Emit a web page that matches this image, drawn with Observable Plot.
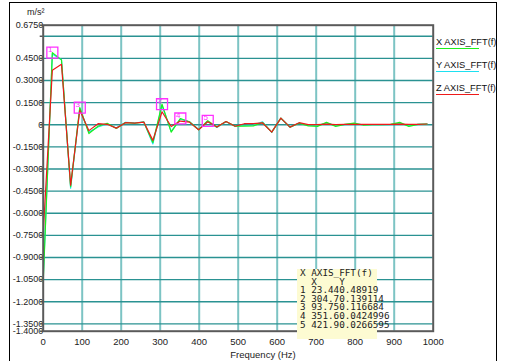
<!DOCTYPE html>
<html><head><meta charset="utf-8">
<script src="https://cdn.jsdelivr.net/npm/d3@7"></script>
<script src="https://cdn.jsdelivr.net/npm/@observablehq/plot@0.6"></script>
<style>
html,body{margin:0;padding:0;background:#fff;}
#wrap{position:relative;width:505px;height:361px;overflow:hidden;background:#fff;font-family:"Liberation Sans",Arial,sans-serif;}
#wrap svg{position:absolute;left:0;top:0;}
.ov{position:absolute;}
</style></head><body>
<div id="wrap"></div>
<script>
// ---- data ----
const freq = [0,23.44,46.88,70.31,93.75,117.19,140.63,164.06,187.5,210.94,234.38,257.81,281.25,304.69,328.13,351.56,375,398.44,421.88,445.31,468.75,492.19,515.63,539.06,562.5,585.94,609.38,632.81,656.25,679.69,703.13,726.56,750,773.44,796.88,820.31,843.75,867.19,890.63,914.06,937.5,960.94,984.38];
const xAxisFFT = [-1.07,0.489,0.44,-0.42,0.117,-0.06,-0.01,0.01,-0.025,0.015,0.01,0.018,-0.12,0.139,-0.05,0.042,0.02,-0.034,0.027,-0.016,0.022,-0.01,-0.01,-0.008,0.015,-0.05,0.045,-0.016,0.01,-0.008,-0.011,0.016,-0.011,0.002,0.011,-0.002,0.001,0,0.002,0.016,-0.011,0.002,0.005];
const yAxisFFT = [-1.05,0.48,0.44,-0.43,0.11,-0.05,-0.015,0.005,-0.022,0.016,0.012,0.02,-0.13,0.13,-0.045,0.038,0.02,-0.032,0.024,-0.018,0.02,-0.01,-0.005,-0.003,0.02,-0.052,0.044,-0.017,0.012,-0.004,-0.004,0.012,-0.006,0.001,0.008,0,0.001,0.001,0.001,0.01,-0.006,0.002,0.005];
const zAxisFFT = [-0.74,0.37,0.41,-0.41,0.098,-0.04,0.007,0.003,-0.023,0.014,0.011,0.018,-0.106,0.088,-0.012,0.025,0.018,-0.034,0.02,-0.016,0.022,-0.01,0.007,0.007,0.012,-0.05,0.045,-0.016,0.014,0.001,0.001,0.004,0.001,0.002,0.003,0.002,0.002,0.002,0.003,0.004,0.002,0.002,0.005];
const seriesNames = ["X AXIS_FFT(f)","Y AXIS_FFT(f)","Z AXIS_FFT(f)"];
const seriesColors = ["#1cf01c","#1ee0f0","#ee1a1a"];
const peakIdx = [1,2,3,4,5];
const peakFreq = ["23.44","304.7","93.75","351.6","421.9"];
const peakVal = ["0.48919","0.139114","0.116684","0.0424996","0.0266595"];
const xTicks = [0,100,200,300,400,500,600,700,800,900,1000];
const yTicks = [0.675,0.6,0.45,0.3,0.15,0,-0.15,-0.3,-0.45,-0.6,-0.75,-0.9,-1.05,-1.2,-1.35,-1.4];
const yTickLabels = ["0.6750","","0.4500","0.3000","0.1500","0","-0.1500","-0.3000","-0.4500","-0.6000","-0.7500","-0.9000","-1.0500","-1.2000","-1.3500","-1.4000"];
const vGrid = [100,200,300,400,500,600,700,800,900];
const hGrid = [0.6,0.45,0.3,0.15,0,-0.15,-0.3,-0.45,-0.6,-0.75,-0.9,-1.05,-1.2,-1.35];

// ---- build ----
const seriesVals = [xAxisFFT, yAxisFFT, zAxisFFT];
const rows = [];
seriesVals.forEach((vals, s) => vals.forEach((v, i) => rows.push({f: freq[i], v, s})));
const peaks = peakIdx.map((n, i) => ({n: String(n), f: +peakFreq[i], v: +peakVal[i]}));
const drawOrder = [1, 0, 2];

const chart = Plot.plot({
  width: 505, height: 361,
  marginLeft: 42.7, marginRight: 72.3, marginTop: 24.7, marginBottom: 30.3,
  x: {domain: [0, 1000]},
  y: {domain: [-1.4, 0.675]},
  style: {fontFamily: "'Liberation Sans', Arial, sans-serif", fontSize: "9.5px", color: "#222", background: "transparent", overflow: "visible"},
  marks: [
    Plot.ruleX(vGrid, {stroke: "#7cc4c4", strokeWidth: 2}),
    Plot.ruleY(hGrid, {stroke: "#2a9292", strokeWidth: 1.4}),
    Plot.axisY(yTicks, {tickSize: 3, tickPadding: -3, stroke: "#555", strokeWidth: 1.5, fontSize: 9, tickFormat: (d) => yTickLabels[yTicks.indexOf(d)], label: null}),
    Plot.axisX(xTicks, {tickSize: 0, tickPadding: 7, tickFormat: (d) => String(d), label: null}),
    ...drawOrder.map(s => Plot.line(rows.filter(r => r.s === s), {x: "f", y: "v", stroke: seriesColors[s], strokeWidth: 1.2})),
    Plot.dot(peaks, {x: "f", y: "v", symbol: "square", r: 6.2, stroke: "#ff30ff", strokeWidth: 1.3, fill: "none"}),
    Plot.text(peaks, {x: "f", y: "v", text: "n", dx: -2, dy: -3.5, fontSize: 8, fill: "#ff30ff"}),
    Plot.frame({stroke: "#5a5a5a", strokeWidth: 2})
  ]
});
const wrap = document.getElementById("wrap");
wrap.appendChild(chart);

function addDiv(css, text) {
  const d = document.createElement("div");
  d.className = "ov";
  d.style.cssText = css;
  if (text != null) d.textContent = text;
  wrap.appendChild(d);
  return d;
}
// outer frame
addDiv("left:9px;top:2px;width:486px;height:380px;border:1px solid #000;");
// unit
addDiv("left:27px;top:7px;font-size:9px;color:#222;", "m/s²");
// x label
addDiv("left:213px;top:349px;width:100px;text-align:center;font-size:9.5px;color:#222;", "Frequency (Hz)");
// legend
seriesNames.forEach((name, i) => {
  addDiv(`left:436px;top:${37 + i * 23}px;font-size:9.3px;color:#111;white-space:nowrap;`, name);
  addDiv(`left:436px;top:${47.5 + i * 23}px;width:43px;height:1.6px;background:${seriesColors[i]};`);
});
// peak table
addDiv("left:297px;top:269px;width:80px;height:70px;background:#fdfbd2;");
const lines = ["X AXIS_FFT(f)", "  X    Y"].concat(peakIdx.map((n, i) => n + " " + peakFreq[i] + peakVal[i]));
addDiv("left:300px;top:269px;font-family:'DejaVu Sans Mono',monospace;font-size:9.3px;line-height:8.6px;white-space:pre;color:#222;", lines.join("\n"));
</script>
</body></html>
